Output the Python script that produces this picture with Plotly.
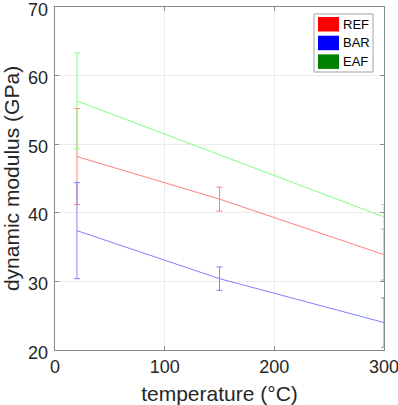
import plotly.graph_objects as go

# ---- data ----
ref_x = [20, 150, 300]
ref_y = [48.2, 42.0, 33.9]
ref_err = [7.0, 1.75, 3.7]

bar_x = [20, 150, 300]
bar_y = [37.4, 30.4, 24.0]
bar_err = [7.0, 1.7, 3.6]

eaf_x = [20, 300]
eaf_y = [56.3, 39.4]
eaf_err = [7.0, 1.8]

legend_labels = ["REF", "BAR", "EAF"]
legend_colors = ["#ff0000", "#0000ff", "#008000"]
line_colors = ["#ff8080", "#8080ff", "#80ff80"]

x_ticks = [0, 100, 200, 300]
y_ticks = [20, 30, 40, 50, 60, 70]

W, H = 398, 405
ML, MR, MT, MB = 55, 14, 7, 55
FONT = "Liberation Sans, Arial, sans-serif"

fig = go.Figure()
series = [(ref_x, ref_y, ref_err), (bar_x, bar_y, bar_err), (eaf_x, eaf_y, eaf_err)]
for (xs, ys, es), lab, col in zip(series, legend_labels, line_colors):
    fig.add_trace(go.Scatter(
        x=xs, y=ys, mode="lines", name=lab, showlegend=False, cliponaxis=False,
        line=dict(color=col, width=1),
        error_y=dict(type="data", array=es, visible=True, color=col, thickness=1, width=3),
    ))

axis_common = dict(
    showline=True, linecolor="#8a8a8a", linewidth=1, mirror="ticks",
    ticks="inside", ticklen=4, tickcolor="#8a8a8a", tickwidth=1,
    showgrid=True, gridcolor="#ebebeb", gridwidth=1, zeroline=False,
    automargin=False, ticklabeloverflow="allow",
    tickfont=dict(family=FONT, size=18, color="#262626"),
)

fig.update_xaxes(range=[0, 300], tickvals=x_ticks,
                 title=dict(text="temperature (°C)", standoff=11,
                            font=dict(family=FONT, size=21, color="#262626")),
                 **axis_common)
fig.update_yaxes(range=[20, 70], tickvals=y_ticks, showticklabels=False,
                 title=dict(text="dynamic modulus (GPa)", standoff=33,
                            font=dict(family=FONT, size=21, color="#262626")),
                 **axis_common)

# ---- legend drawn as shapes (pixel -> paper) ----
pw = W - ML - MR
ph = H - MT - MB


def px(xp):
    return (xp - ML) / pw


def py(yp):
    return (H - MB - yp) / ph


shapes = [dict(type="rect", xref="paper", yref="paper",
               x0=px(314), x1=px(373), y0=py(72), y1=py(14),
               line=dict(color="#a0a0a0", width=1), fillcolor="white", layer="above")]
annotations = []
for i, (lab, col) in enumerate(zip(legend_labels, legend_colors)):
    top = 17 + i * 18.7
    shapes.append(dict(type="rect", xref="paper", yref="paper",
                       x0=px(318), x1=px(339), y0=py(top + 14.5), y1=py(top),
                       line=dict(width=0), fillcolor=col, layer="above"))
    annotations.append(dict(xref="paper", yref="paper", x=px(340.5), y=py(top + 7.25),
                            text=lab, showarrow=False, xanchor="left", yanchor="middle",
                            font=dict(family=FONT, size=13, color="#000000")))

# y tick labels placed on the y scale, nudged slightly down like the reference
for v in y_ticks:
    annotations.append(dict(xref="paper", yref="y", x=0, y=v, text=str(v),
                            showarrow=False, xanchor="right", yanchor="middle",
                            xshift=-5, yshift=-2.5,
                            font=dict(family=FONT, size=18, color="#262626")))

fig.update_layout(
    width=W, height=H,
    margin=dict(l=ML, r=MR, t=MT, b=MB),
    paper_bgcolor="white", plot_bgcolor="white",
    shapes=shapes, annotations=annotations,
    showlegend=False,
)

fig.write_html("out.html", config={"displayModeBar": False},
               post_script="document.body.style.margin='0';document.body.style.overflow='hidden';")
